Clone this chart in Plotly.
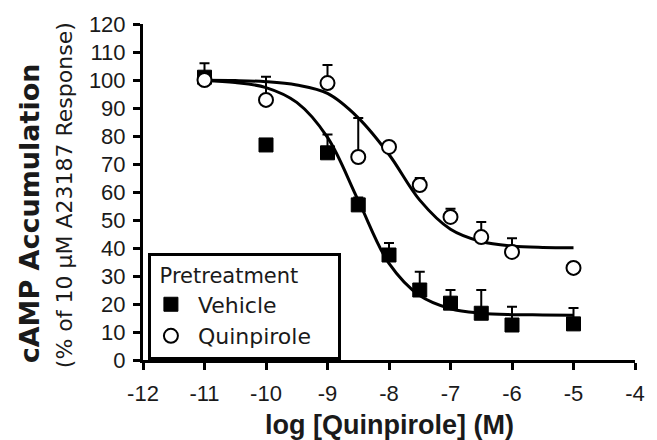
import plotly.graph_objects as go

# Data
log_conc = [-11, -10, -9, -8.5, -8, -7.5, -7, -6.5, -6, -5]
vehicle_mean = [101, 76.8, 74, 55.4, 37.5, 25, 20.3, 16.7, 12.5, 12.9]
vehicle_err = [5, 1, 6.5, 2.6, 4.3, 6.5, 4.7, 8.3, 6.5, 5.7]
quin_mean = [100, 92.9, 98.9, 72.5, 76.1, 62.5, 51.1, 43.9, 38.6, 32.9]
quin_err = [1.5, 8.3, 6.5, 13.9, 1.5, 2.5, 2.9, 5.4, 4.9, 0.5]

# Fitted curves
curve_x = [-11, -10.5, -10, -9.5, -9, -8.5, -8, -7.5, -7, -6.5, -6, -5.5, -5]
vehicle_curve = [99.7, 99.1, 97.3, 92, 79.5, 57, 34.5, 23, 18.3, 16.7, 16.2, 16.1, 16]
quin_curve = [99.9, 99.8, 99.4, 98.2, 95.2, 86.5, 73.4, 57.1, 46.7, 42.3, 40.7, 40.2, 40.1]

x_ticks = [-12, -11, -10, -9, -8, -7, -6, -5, -4]
y_ticks = list(range(0, 121, 10))

NB = "\u00a0"

fig = go.Figure()

fig.add_trace(go.Scatter(x=curve_x, y=vehicle_curve, mode="lines",
                         line=dict(color="black", width=3, shape="spline", smoothing=1.0),
                         showlegend=False, hoverinfo="skip"))
fig.add_trace(go.Scatter(x=curve_x, y=quin_curve, mode="lines",
                         line=dict(color="black", width=3, shape="spline", smoothing=1.0),
                         showlegend=False, hoverinfo="skip"))

fig.add_trace(go.Scatter(
    x=log_conc, y=vehicle_mean, mode="markers", name=NB + "Vehicle",
    marker=dict(symbol="square", size=14, color="black", line=dict(color="black", width=1)),
    error_y=dict(type="data", symmetric=False, array=vehicle_err,
                 arrayminus=[0] * len(vehicle_err), color="black", thickness=2, width=5)))
fig.add_trace(go.Scatter(
    x=log_conc, y=quin_mean, mode="markers", name=NB + "Quinpirole" + NB * 3,
    marker=dict(symbol="circle", size=14, color="white", line=dict(color="black", width=2)),
    error_y=dict(type="data", symmetric=False, array=quin_err,
                 arrayminus=[0] * len(quin_err), color="black", thickness=2, width=5)))

tick_font = dict(family="Liberation Sans, Arial, sans-serif", size=22, color="#1a1a1a")

fig.update_xaxes(range=[-12, -4], tickvals=x_ticks, ticktext=[str(v) for v in x_ticks],
                 showline=True, linecolor="black", linewidth=3,
                 ticks="outside", ticklen=7, tickwidth=3, tickcolor="black",
                 showgrid=False, zeroline=False, tickfont=tick_font,
                 ticklabelstandoff=5)
fig.update_yaxes(range=[0, 120], tickvals=y_ticks,
                 showline=True, linecolor="black", linewidth=3,
                 ticks="outside", ticklen=7, tickwidth=3, tickcolor="black",
                 showgrid=False, zeroline=False, tickfont=tick_font,
                 ticklabelstandoff=3)

fig.add_annotation(text="log [Quinpirole] (M)", xref="paper", yref="paper",
                   x=0.5, y=-0.193, xanchor="center", yanchor="middle", showarrow=False,
                   font=dict(family="Liberation Sans, Arial, sans-serif", size=27,
                             color="#1a1a1a", weight="bold"))
fig.add_annotation(text="cAMP Accumulation", xref="paper", yref="paper",
                   x=-0.231, y=0.4375, xanchor="center", yanchor="middle", showarrow=False,
                   textangle=-90,
                   font=dict(family="DejaVu Sans, sans-serif", size=27,
                             color="#1a1a1a", weight="bold"))
fig.add_annotation(text="(% of 10 µM A23187 Response)", xref="paper", yref="paper",
                   x=-0.159, y=0.49, xanchor="center", yanchor="middle", showarrow=False,
                   textangle=-90,
                   font=dict(family="DejaVu Sans, sans-serif", size=22, color="#1a1a1a"))

fig.update_layout(
    width=657, height=440,
    margin=dict(l=143, r=12, t=24, b=80),
    paper_bgcolor="white", plot_bgcolor="white",
    legend=dict(x=0.01, y=0.318, xanchor="left", yanchor="top",
                bordercolor="black", borderwidth=3, bgcolor="white",
                title=dict(text=NB + "Pretreatment",
                           font=dict(family="DejaVu Sans, sans-serif", size=21, color="#1a1a1a")),
                font=dict(family="DejaVu Sans, sans-serif", size=22, color="#1a1a1a"),
                itemwidth=30, tracegroupgap=0),
)

fig.write_html("out.html")
